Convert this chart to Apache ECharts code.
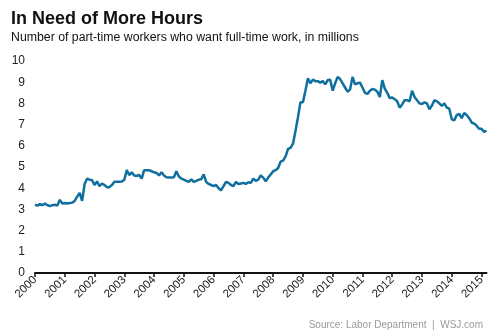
<!DOCTYPE html>
<html>
<head>
<meta charset="utf-8">
<script src="https://cdn.jsdelivr.net/npm/echarts@6/dist/echarts.min.js"></script>
<style>
  html, body { margin: 0; padding: 0; background: #fff; }
  #chart { width: 502px; height: 335px; }
</style>
</head>
<body>
<div id="chart"></div>
<script>
// Part-time workers who want full-time work, monthly, in millions
var years = ['2000', '2001', '2002', '2003', '2004', '2005', '2006', '2007',
             '2008', '2009', '2010', '2011', '2012', '2013', '2014', '2015'];

var v2000 = [3.22, 3.18, 3.25, 3.20, 3.28, 3.20, 3.15, 3.20, 3.22, 3.18, 3.45, 3.28];
var v2001 = [3.30, 3.28, 3.30, 3.32, 3.40, 3.60, 3.78, 3.40, 4.20, 4.45, 4.40, 4.38];
var v2002 = [4.15, 4.32, 4.10, 4.22, 4.15, 4.05, 4.05, 4.15, 4.30, 4.30, 4.30, 4.32];
var v2003 = [4.40, 4.85, 4.62, 4.75, 4.60, 4.58, 4.62, 4.45, 4.85, 4.85, 4.85, 4.80];
var v2004 = [4.75, 4.72, 4.60, 4.75, 4.60, 4.52, 4.50, 4.50, 4.52, 4.80, 4.55, 4.45];
var v2005 = [4.40, 4.35, 4.30, 4.42, 4.30, 4.35, 4.40, 4.42, 4.65, 4.30, 4.20, 4.15];
var v2006 = [4.10, 4.15, 4.00, 3.90, 4.10, 4.30, 4.25, 4.15, 4.10, 4.30, 4.20, 4.22];
var v2007 = [4.25, 4.20, 4.28, 4.25, 4.45, 4.35, 4.40, 4.60, 4.50, 4.33, 4.50, 4.65];
var v2008 = [4.80, 4.85, 4.95, 5.25, 5.30, 5.50, 5.85, 5.90, 6.10, 6.70, 7.35, 8.05];
var v2009 = [8.05, 8.60, 9.18, 8.95, 9.12, 9.05, 9.05, 8.98, 9.05, 8.90, 9.10, 9.12];
var v2010 = [8.60, 8.95, 9.25, 9.15, 8.95, 8.75, 8.55, 8.65, 9.25, 8.90, 8.95, 8.98];
var v2011 = [8.75, 8.50, 8.45, 8.60, 8.68, 8.65, 8.55, 8.30, 9.10, 8.70, 8.50, 8.25];
var v2012 = [8.28, 8.20, 8.10, 7.80, 7.95, 8.15, 8.15, 8.10, 8.60, 8.30, 8.15, 8.00];
var v2013 = [7.97, 8.05, 8.00, 7.72, 7.90, 8.15, 8.10, 8.00, 7.88, 8.00, 7.80, 7.75];
var v2014 = [7.25, 7.20, 7.45, 7.50, 7.30, 7.55, 7.45, 7.30, 7.10, 7.05, 6.95, 6.80];
var v2015 = [6.80, 6.65, 6.72];

var yearly = [v2000, v2001, v2002, v2003, v2004, v2005, v2006, v2007,
              v2008, v2009, v2010, v2011, v2012, v2013, v2014, v2015];

// Monthly categories "YYYY-MM" and matching values
var months = [];
var values = [];
yearly.forEach(function (arr, yi) {
  arr.forEach(function (v, mi) {
    months.push(years[yi] + '-' + (mi < 9 ? '0' : '') + (mi + 1));
    values.push(v);
  });
});

function isJanuary(index, value) {
  return value.slice(5) === '01';
}

var chart = echarts.init(document.getElementById('chart'), null, { renderer: 'canvas' });
var font = 'Liberation Sans, Arial, Helvetica, sans-serif';

chart.setOption({
  animation: false,
  backgroundColor: '#ffffff',
  textStyle: { fontFamily: font },
  title: [
    {
      text: 'In Need of More Hours',
      left: 6, top: 5,
      textStyle: { fontFamily: font, fontSize: 18, fontWeight: 'bold', color: '#111' }
    },
    {
      text: 'Number of part-time workers who want full-time work, in millions',
      left: 6, top: 27,
      textStyle: { fontFamily: font, fontSize: 12.3, fontWeight: 'normal', color: '#111' }
    },
    {
      text: 'Source: Labor Department  |  WSJ.com',
      right: 14, top: 315,
      textStyle: { fontFamily: font, fontSize: 10, fontWeight: 'normal', color: '#9a9a9a' }
    }
  ],
  grid: { left: 35, right: 15.5, top: 61, bottom: 62 },
  xAxis: {
    type: 'category',
    data: months,
    boundaryGap: false,
    axisLine: { lineStyle: { color: '#111', width: 2 } },
    axisTick: { interval: isJanuary, length: 4, lineStyle: { color: '#111', width: 1.5 } },
    axisLabel: {
      interval: isJanuary,
      rotate: 45,
      margin: 5,
      fontSize: 11.5,
      color: '#222',
      formatter: function (v) { return v.slice(0, 4); }
    },
    splitLine: { show: false }
  },
  yAxis: {
    type: 'value',
    min: 0, max: 10, interval: 1,
    axisLine: { show: false },
    axisTick: { show: false },
    splitLine: { show: false },
    axisLabel: { fontSize: 12, color: '#222', margin: 10 }
  },
  series: [{
    type: 'line',
    data: values,
    symbol: 'none',
    lineStyle: { color: '#0f6f9e', width: 2.5 },
    itemStyle: { color: '#0f6f9e' }
  }]
});
</script>
</body>
</html>
